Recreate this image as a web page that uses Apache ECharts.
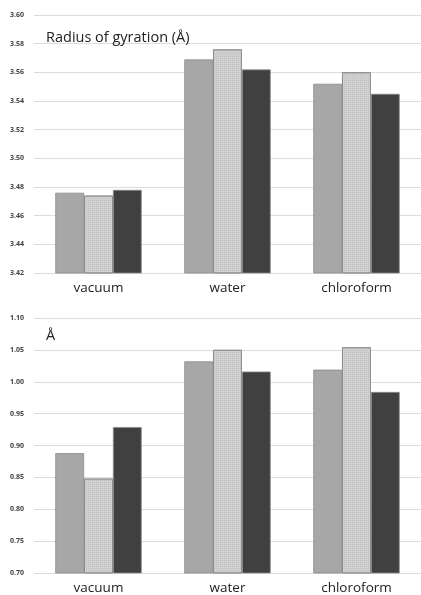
<!DOCTYPE html>
<html lang="en">
<head>
    <meta charset="UTF-8">
    <title>Radius of gyration</title>
    <script src="https://cdn.jsdelivr.net/npm/echarts@6/dist/echarts.min.js"></script>
</head>
<body style="margin:0;background:#fff">
<div id="main" style="width:421px;height:595px"></div>
<script>
    // categories and values
    const solvents = ['vacuum', 'water', 'chloroform'];
    const rgA = [3.476, 3.569, 3.552];
    const rgB = [3.474, 3.576, 3.560];
    const rgC = [3.478, 3.562, 3.545];
    const dA = [0.888, 1.032, 1.019];
    const dB = [0.848, 1.050, 1.054];
    const dC = [0.929, 1.016, 0.984];

    const colors = ['#a7a7a7', '#d0d0d0', '#404040'];
    const fontFamily = '"Open Sans", "DejaVu Sans", sans-serif';

    const chart = echarts.init(document.getElementById('main'));

    function xAxis(gi) {
        return {
            type: 'category', gridIndex: gi, data: solvents,
            axisLine: {show: false}, axisTick: {show: false},
            axisLabel: {fontSize: 13.5, color: '#222', fontFamily: fontFamily, margin: 8}
        };
    }
    function yAxis(gi, min, max, step) {
        return {
            type: 'value', gridIndex: gi, min: min, max: max, interval: step,
            axisLine: {show: false}, axisTick: {show: false},
            axisLabel: {fontSize: 7, color: '#444', fontWeight: 'bold', fontFamily: fontFamily, margin: 10,
                formatter: v => v.toFixed(2)},
            splitLine: {lineStyle: {color: '#dcdcdc', width: 1}}
        };
    }
    function bars(data, i, gi) {
        const s = {
            type: 'bar', data: data, xAxisIndex: gi, yAxisIndex: gi,
            barGap: '0%', barCategoryGap: '33%',
            itemStyle: {color: colors[i], borderColor: '#8a8a8a', borderWidth: 0.8},
            silent: true
        };
        if (i === 1) {
            // faint stipple on the light bars
            s.itemStyle.decal = {
                symbol: 'rect', symbolSize: 1, dashArrayX: [1, 1], dashArrayY: [1, 1],
                color: 'rgba(0,0,0,0.08)', rotation: 0
            };
        }
        return s;
    }

    chart.setOption({
        animation: false,
        title: [
            {text: 'Radius of gyration (Å)', left: 41, top: 25,
                textStyle: {fontSize: 14.5, fontWeight: 'normal', color: '#222', fontFamily: fontFamily}},
            {text: 'Å', left: 41, top: 323,
                textStyle: {fontSize: 14.5, fontWeight: 'normal', color: '#222', fontFamily: fontFamily}}
        ],
        grid: [
            {left: 34, right: 0, top: 15, height: 258},
            {left: 34, right: 0, top: 318, height: 258}
        ],
        xAxis: [xAxis(0), xAxis(1)],
        yAxis: [yAxis(0, 3.42, 3.60, 0.02), yAxis(1, 0.70, 1.10, 0.05)],
        series: [
            bars(rgA, 0, 0), bars(rgB, 1, 0), bars(rgC, 2, 0),
            bars(dA, 0, 1), bars(dB, 1, 1), bars(dC, 2, 1)
        ]
    });
</script>
</body>
</html>
